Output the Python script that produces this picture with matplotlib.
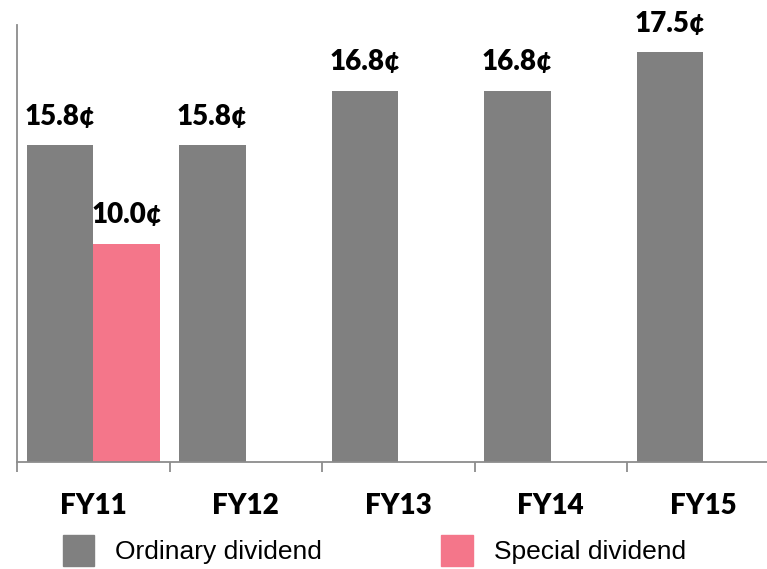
import numpy as np
import matplotlib.pyplot as plt
from matplotlib.patches import Patch

years = ['FY11', 'FY12', 'FY13', 'FY14', 'FY15']
# bar heights as drawn in the source (its axis is not quite linear with the labels)
ordinary = [14.5, 14.5, 17.0, 17.0, 18.78]
ordinary_lbl = ['15.8¢', '15.8¢', '16.8¢', '16.8¢', '17.5¢']
special = [10.0, 0, 0, 0, 0]
special_lbl = ['10.0¢', '', '', '', '']

grey = '#808080'
pink = '#F4768A'

fig = plt.figure(figsize=(7.67, 5.69), dpi=100)
ax = fig.add_axes([17 / 767, 1 - 462 / 569, 762.5 / 767, 437 / 569])

x = np.arange(len(years))
w = 0.436
b1 = ax.bar(x - w / 2, ordinary, w, color=grey)
b2 = ax.bar(x + w / 2, special, w, color=pink)

for bars, lbls in [(b1, ordinary_lbl), (b2, special_lbl)]:
    for r, t in zip(bars, lbls):
        if t:
            ax.annotate(t, (r.get_x() + r.get_width() / 2, r.get_height()),
                        xytext=(0, 14.5), textcoords='offset points',
                        ha='center', va='baseline', fontsize=20,
                        fontweight='heavy', family='Lato')

ax.set_xlim(-0.5, len(years) - 0.5)
ax.set_ylim(0, 20)
ax.set_xticks(x)
ax.set_xticklabels(years, fontsize=20, fontweight='heavy', family='Lato')
ax.set_xticks(np.arange(len(years) + 1) - 0.5, minor=True)
ax.tick_params(axis='x', which='major', length=0, pad=22)
ax.tick_params(axis='x', which='minor', length=7.5, width=1.3, color='#8c8c8c')
ax.set_yticks([])
for s in ['top', 'right']:
    ax.spines[s].set_visible(False)
for s in ['left', 'bottom']:
    ax.spines[s].set_color('#8c8c8c')
    ax.spines[s].set_linewidth(1.3)

handles = [Patch(color=grey), Patch(color=pink)]
fig.legend(handles, ['Ordinary dividend', 'Special dividend'], ncol=2,
           loc='lower left', bbox_to_anchor=(52 / 767, -0.013), frameon=False,
           prop={'family': 'Liberation Sans', 'size': 19},
           handlelength=1.2, handleheight=1.4, handletextpad=0.8,
           columnspacing=4.5, borderaxespad=0)

fig.savefig('out.png', dpi=100)
